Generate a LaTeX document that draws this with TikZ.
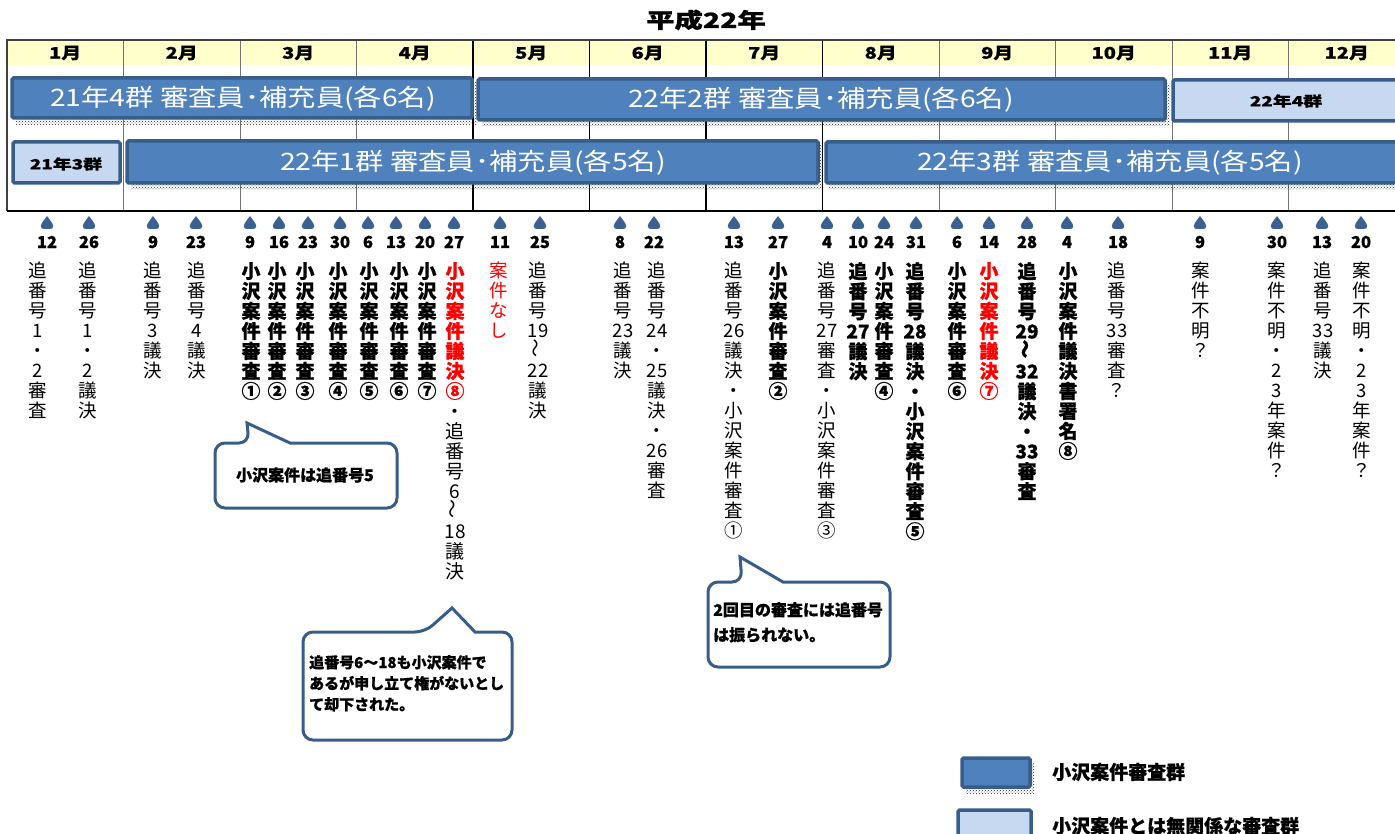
\documentclass[tikz,border=0pt]{standalone}
\usepackage{fontspec}
\setmainfont{Noto Sans CJK JP}[BoldFeatures={FakeBold=0.7}]
\usepackage{graphicx}
\usetikzlibrary{patterns}
\definecolor{barfill}{HTML}{4F81BD}
\definecolor{barline}{HTML}{385D8A}
\definecolor{lightfill}{HTML}{C6D9F1}
\definecolor{hdr}{HTML}{FFFFCC}
\definecolor{mk}{HTML}{3A6192}
\definecolor{redtxt}{HTML}{FF0000}
\tikzset{
  darkbar/.style={fill=barfill, draw=barline, line width=3.5pt, rounded corners=1.5pt},
  lightbar/.style={fill=lightfill, draw=barline, line width=3.5pt, rounded corners=1.5pt},
  shadowbox/.style={pattern=crosshatch dots, pattern color=black!85},
  bartext/.style={text=white, font=\fontsize{24}{26}\selectfont, inner sep=0pt},
  smalltext/.style={font=\bfseries\fontsize{14}{16}\selectfont, inner sep=0pt},
  monthtext/.style={font=\bfseries\fontsize{16}{18}\selectfont, inner sep=0pt},
  vt/.style={anchor=north, text width=30pt, align=center, inner sep=0pt, font=\fontsize{18.5}{20}\selectfont},
  vtb/.style={vt, font=\bfseries\fontsize{19}{20}\selectfont},
  dayno/.style={font=\bfseries\fontsize{16.5}{18}\selectfont, inner sep=0pt},
  callout/.style={draw=barline, line width=3pt, fill=white, rounded corners=10pt},
  callouttext/.style={font=\bfseries\fontsize{15}{21}\selectfont, inner sep=0pt, align=left},
  legendtext/.style={font=\bfseries\fontsize{19}{21}\selectfont, inner sep=0pt, anchor=west},
  drop/.pic={\fill[mk] (0,-7) .. controls (2.2,-3.5) and (6.2,0) .. (6.2,3.5) .. controls (6.2,5.5) and (4.5,6) .. (2.2,6) -- (-2.2,6) .. controls (-4.5,6) and (-6.2,5.5) .. (-6.2,3.5) .. controls (-6.2,0) and (-2.2,-3.5) .. (0,-7) -- cycle;}
}
\newcommand\ev[6]{%
  \pic at (#2,223) {drop};
  \node[dayno] (d#1) at (#2,242) {#3};
  \node[#5] (t#1) at (#4,262) {#6};
}
\newcommand\rt{\rotatebox{90}{〜}}
\begin{document}
\begin{tikzpicture}[x=1pt,y=-1pt]
\useasboundingbox (0,0) rectangle (1395,834);
\clip (0,0) rectangle (1395,834);
% title
\node[font=\bfseries\fontsize{21}{23}\selectfont, inner sep=0pt] (title) at (706,20) {\scalebox{1.35}[1]{平成22年}};
% header
\fill[hdr] (7,40) rectangle (1400,65);
\foreach \i in {1,2,3,8,9,10,11} \draw[black!55, line width=1pt] (7+116.5*\i,40) -- (7+116.5*\i,211);
\foreach \i in {4,5,6,7} \draw[black, line width=1.3pt] (7+116.5*\i,40) -- (7+116.5*\i,211);
\draw[black!75, line width=1.2pt] (7,211) -- (7,40) -- (1400,40);
\draw[black, line width=2pt] (7,211) -- (1400,211);
\foreach \m [count=\i from 0] in {1,...,12}
  \node[monthtext] (m\m) at (65.25+116.5*\i,53) {\scalebox{1.25}[1]{\m 月}};
% shadows
\fill[shadowbox] (16,82) rectangle (478,125);
\fill[shadowbox] (482,84) rectangle (1170,126);
\fill[shadowbox] (131,146) rectangle (823,190);
\fill[shadowbox] (829,147) rectangle (1400,190);
% bars
\draw[darkbar] (12,78) rectangle (472,118);
\draw[darkbar] (478,79) rectangle (1165,120);
\draw[lightbar] (1173,80) rectangle (1410,121);
\draw[lightbar] (13,142) rectangle (120,183);
\draw[darkbar] (127,141) rectangle (818,183);
\draw[darkbar] (826,142) rectangle (1410,183);
\node[bartext] (b1) at (243,99) {\scalebox{1.18}[1]{21年4群 審査員･補充員(各6名)}};
\node[bartext] (b2) at (821,100) {\scalebox{1.18}[1]{22年2群 審査員･補充員(各6名)}};
\node[smalltext] (b3) at (1286,101) {\scalebox{1.35}[1]{22年4群}};
\node[smalltext] (b4) at (66,164) {\scalebox{1.35}[1]{21年3群}};
\node[bartext] (b5) at (473,163) {\scalebox{1.18}[1]{22年1群 審査員･補充員(各5名)}};
\node[bartext] (b6) at (1110,163) {\scalebox{1.18}[1]{22年3群 審査員･補充員(各5名)}};
% events
\ev{1}{47}{12}{38}{vt}{追\\番\\号\\1\\・\\2\\審\\査}
\ev{2}{89}{26}{88}{vt}{追\\番\\号\\1\\・\\2\\議\\決}
\ev{3}{153}{9}{153}{vt}{追\\番\\号\\3\\議\\決}
\ev{4}{196}{23}{197}{vt}{追\\番\\号\\4\\議\\決}
\ev{5}{250}{9}{251}{vtb}{小\\沢\\案\\件\\審\\査\\①}
\ev{6}{279}{16}{277}{vtb}{小\\沢\\案\\件\\審\\査\\②}
\ev{7}{308}{23}{305}{vtb}{小\\沢\\案\\件\\審\\査\\③}
\ev{8}{340}{30}{338}{vtb}{小\\沢\\案\\件\\審\\査\\④}
\ev{9}{368}{6}{369}{vtb}{小\\沢\\案\\件\\審\\査\\⑤}
\ev{10}{396}{13}{399}{vtb}{小\\沢\\案\\件\\審\\査\\⑥}
\ev{11}{425}{20}{427}{vtb}{小\\沢\\案\\件\\審\\査\\⑦}
\ev{12}{454}{27}{455}{vtb}{\color{redtxt}小\\沢\\案\\件\\議\\決\\⑧\\\color{black}\mdseries ・\\追\\番\\号\\6\\\rt\\18\\議\\決}
\ev{13}{500}{11}{499}{vt}{\color{redtxt}案\\件\\な\\し}
\ev{14}{540}{25}{538}{vt}{追\\番\\号\\19\\\rt\\22\\議\\決}
\ev{15}{620}{8}{623}{vt}{追\\番\\号\\23\\議\\決}
\ev{16}{654}{22}{657}{vt}{追\\番\\号\\24\\・\\25\\議\\決\\・\\26\\審\\査}
\ev{17}{734}{13}{734}{vt}{追\\番\\号\\26\\議\\決\\・\\小\\沢\\案\\件\\審\\査\\①}
\ev{18}{778}{27}{778}{vtb}{小\\沢\\案\\件\\審\\査\\②}
\ev{19}{827}{4}{827}{vt}{追\\番\\号\\27\\審\\査\\・\\小\\沢\\案\\件\\審\\査\\③}
\ev{20}{858}{10}{858}{vtb}{追\\番\\号\\27\\議\\決}
\ev{21}{884}{24}{884}{vtb}{小\\沢\\案\\件\\審\\査\\④}
\ev{22}{916}{31}{915}{vtb}{追\\番\\号\\28\\議\\決\\・\\小\\沢\\案\\件\\審\\査\\⑤}
\ev{23}{957}{6}{957}{vtb}{小\\沢\\案\\件\\審\\査\\⑥}
\ev{24}{989}{14}{989}{vtb}{\color{redtxt}小\\沢\\案\\件\\議\\決\\⑦}
\ev{25}{1027}{28}{1027}{vtb}{追\\番\\号\\29\\\rt\\32\\議\\決\\・\\33\\審\\査}
\ev{26}{1067}{4}{1068}{vtb}{小\\沢\\案\\件\\議\\決\\書\\署\\名\\⑧}
\ev{27}{1118}{18}{1117}{vt}{追\\番\\号\\33\\審\\査\\？}
\ev{28}{1200}{9}{1201}{vt}{案\\件\\不\\明\\？}
\ev{29}{1277}{30}{1277}{vt}{案\\件\\不\\明\\・\\2\\3\\年\\案\\件\\？}
\ev{30}{1322}{13}{1323}{vt}{追\\番\\号\\33\\議\\決}
\ev{31}{1361}{20}{1362}{vt}{案\\件\\不\\明\\・\\2\\3\\年\\案\\件\\？}
% callouts
\draw[callout] (249,443) [sharp corners] -- (247,423) -- (290,443) [rounded corners=10pt] -- (397,443) -- (397,508) -- (215,508) -- (215,443) -- cycle;
\node[callouttext, font=\bfseries\fontsize{16}{21}\selectfont] (c1) at (305,475) {小沢案件は追番号5};
\draw[callout] (425,632) [sharp corners] -- (452,608) -- (475,632) [rounded corners=10pt] -- (512,632) -- (512,740) -- (303,740) -- (303,632) -- cycle;
\node[callouttext, anchor=north west] (c2) at (309,655) {追番号6〜18も小沢案件で\\あるが申し立て権がないとし\\て却下された。};
\draw[callout] (742,582) [sharp corners] -- (740,557) -- (783,582) [rounded corners=10pt] -- (890,582) -- (890,667) -- (708,667) -- (708,582) -- cycle;
\node[callouttext, anchor=north west, font=\bfseries\fontsize{16}{25}\selectfont] (c3) at (713,602) {2回目の審査には追番号\\は振られない。};
% legend
\fill[shadowbox] (966,763) rectangle (1034,793);
\draw[darkbar] (962,758) rectangle (1030,787);
\node[legendtext] (l1) at (1052,772) {小沢案件審査群};
\draw[lightbar] (958,810) rectangle (1031,845);
\node[legendtext] (l2) at (1052,826) {小沢案件とは無関係な審査群};
\end{tikzpicture}
\end{document}
